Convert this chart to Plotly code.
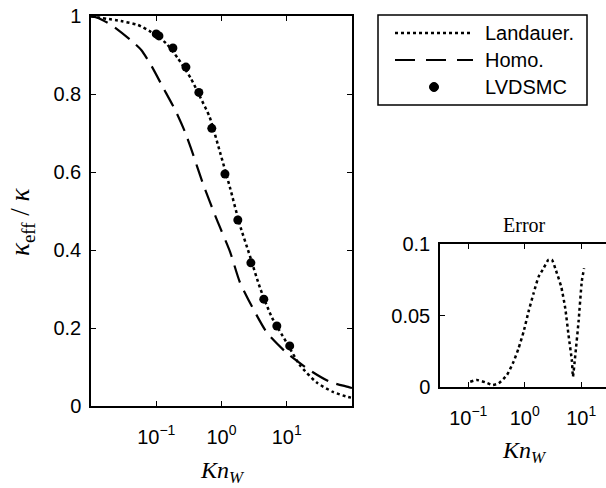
import plotly.graph_objects as go
import numpy as np

# ---- data ----
kn_lvdsmc = [0.10, 0.11, 0.18, 0.285, 0.45, 0.71, 1.13, 1.78, 2.82, 4.45, 7.05, 11.1]
k_lvdsmc = [0.954, 0.949, 0.918, 0.869, 0.804, 0.712, 0.595, 0.477, 0.367, 0.274, 0.205, 0.154]

logkn_land = [-2.0, -1.54, -1.28, -1.08, -0.85, -0.67, -0.47, -0.32, -0.18, -0.02, 0.13, 0.28,
              0.435, 0.59, 0.77, 1.0, 1.2, 1.46, 1.71, 1.94, 2.0]
k_land = [0.999, 0.987, 0.977, 0.959, 0.93, 0.892, 0.84, 0.79, 0.74, 0.649, 0.56, 0.465,
          0.385, 0.303, 0.228, 0.162, 0.105, 0.060, 0.036, 0.023, 0.021]

logkn_homo = [-2.0, -1.89, -1.69, -1.39, -1.23, -1.08, -0.9, -0.71, -0.56, -0.47, -0.28, -0.07,
              0.13, 0.28, 0.47, 0.70, 1.0, 1.35, 1.66, 1.94, 2.0]
k_homo = [1.0, 0.995, 0.977, 0.938, 0.913, 0.874, 0.818, 0.759, 0.703, 0.662, 0.568, 0.477,
          0.396, 0.318, 0.254, 0.187, 0.136, 0.092, 0.062, 0.049, 0.046]

logkn_err = [-0.965, -0.85, -0.70, -0.57, -0.46, -0.315, -0.198, -0.11, -0.02, 0.067, 0.156,
             0.244, 0.333, 0.42, 0.48, 0.54, 0.646, 0.717, 0.776, 0.835, 0.853, 0.894, 0.953,
             1.01, 1.05]
err = [0.0037, 0.0049, 0.0033, 0.0014, 0.0026, 0.0084, 0.0177, 0.027, 0.0387, 0.0527, 0.0655,
       0.077, 0.083, 0.089, 0.089, 0.083, 0.070, 0.055, 0.036, 0.018, 0.0072, 0.022, 0.046,
       0.074, 0.083]

log_xticks = [0.1, 1, 10]
log_xticktext = ["10<sup>−1</sup>", "10<sup>0</sup>", "10<sup>1</sup>"]
main_yticks = [0, 0.2, 0.4, 0.6, 0.8, 1]
inset_yticks = [0, 0.05, 0.1]
legend_names = ["Landauer.", "Homo.", "LVDSMC"]

W, H = 606, 488
SANS = "Liberation Sans, Arial, sans-serif"
SERIF = "Liberation Serif, Times New Roman, serif"
DASH = "18px,9px"


def px(x):
    return x / W


def py(y):
    return 1 - y / H


fig = go.Figure()
fig.add_trace(go.Scatter(x=10 ** np.array(logkn_land), y=k_land, mode="lines", name=legend_names[0],
                         line=dict(color="black", width=2.5, dash="dot", shape="spline", smoothing=0.6),
                         xaxis="x", yaxis="y", showlegend=False))
fig.add_trace(go.Scatter(x=10 ** np.array(logkn_homo), y=k_homo, mode="lines", name=legend_names[1],
                         line=dict(color="black", width=2.2, dash=DASH, shape="spline", smoothing=0.6),
                         xaxis="x", yaxis="y", showlegend=False))
fig.add_trace(go.Scatter(x=kn_lvdsmc, y=k_lvdsmc, mode="markers", name=legend_names[2],
                         marker=dict(color="black", size=9),
                         xaxis="x", yaxis="y", showlegend=False))
fig.add_trace(go.Scatter(x=10 ** np.array(logkn_err), y=err, mode="lines", showlegend=False,
                         line=dict(color="black", width=2.5, dash="dot", shape="spline", smoothing=0.5),
                         xaxis="x2", yaxis="y2"))

axcommon = dict(showline=True, linecolor="black", linewidth=1.5, ticks="inside", ticklen=5,
                tickcolor="black", showgrid=False, zeroline=False,
                tickfont=dict(family=SANS, size=20, color="black"))

fig.update_layout(
    width=W, height=H, margin=dict(l=0, r=0, t=0, b=0, autoexpand=False),
    paper_bgcolor="white", plot_bgcolor="white",
    xaxis=dict(type="log", range=[-2, 2], domain=[px(91), px(352)], anchor="y",
               tickvals=log_xticks, ticktext=log_xticktext, mirror="ticks",
               ticklabelstandoff=12, **axcommon),
    yaxis=dict(range=[0, 1], domain=[py(406), py(16)], anchor="x",
               tickvals=main_yticks, mirror="ticks", ticklabelstandoff=4, **axcommon),
    xaxis2=dict(type="log", range=[-1.5, -1.5 + 166 / 56.5], domain=[px(440), 1.0], anchor="y2",
                tickvals=log_xticks, ticktext=log_xticktext, mirror="ticks",
                ticklabelstandoff=12, **axcommon),
    yaxis2=dict(range=[0, 0.1], domain=[py(387), py(244)], anchor="x2",
                tickvals=inset_yticks, mirror=False, ticklabelstandoff=4, **axcommon),
    showlegend=False,
)

# ---- legend box (drawn) ----
shapes = [dict(type="rect", xref="paper", yref="paper", x0=px(378), x1=px(587), y0=py(105), y1=py(15),
               line=dict(color="black", width=1.5), fillcolor="white", layer="above")]
shapes.append(dict(type="line", xref="paper", yref="paper", x0=px(395), x1=px(473), y0=py(33), y1=py(33),
                   line=dict(color="black", width=2.5, dash="dot")))
shapes.append(dict(type="line", xref="paper", yref="paper", x0=px(395), x1=px(473), y0=py(60), y1=py(60),
                   line=dict(color="black", width=2.2, dash="20px,11px")))
shapes.append(dict(type="circle", xref="paper", yref="paper", x0=px(429.5), x1=px(438.5),
                   y0=py(91.5), y1=py(82.5), line=dict(color="black", width=1), fillcolor="black"))
fig.update_layout(shapes=shapes)
for name, yy in zip(legend_names, [33, 60, 87]):
    fig.add_annotation(text=name, x=px(483), y=py(yy), xref="paper", yref="paper", xanchor="left",
                       yanchor="middle", showarrow=False, font=dict(family=SANS, size=20, color="black"))

fig.add_annotation(text="<i>Kn</i><sub><i>W</i></sub>", x=px(222), y=py(472),
                   xref="paper", yref="paper", showarrow=False, xanchor="center", yanchor="middle",
                   font=dict(family=SERIF, size=24, color="black"))
fig.add_annotation(text="<i>Kn</i><sub><i>W</i></sub>", x=px(524), y=py(452),
                   xref="paper", yref="paper", showarrow=False, xanchor="center", yanchor="middle",
                   font=dict(family=SERIF, size=24, color="black"))
fig.add_annotation(text="<i>κ</i><sub>eff</sub> / <i>κ</i>", x=px(22), y=py(222), textangle=-90,
                   xref="paper", yref="paper", showarrow=False, xanchor="center", yanchor="middle",
                   font=dict(family=SERIF, size=27, color="black"))
fig.add_annotation(text="Error", x=px(524), y=py(225),
                   xref="paper", yref="paper", showarrow=False, xanchor="center", yanchor="middle",
                   font=dict(family=SERIF, size=20, color="black"))

fig.write_html("out.html")
